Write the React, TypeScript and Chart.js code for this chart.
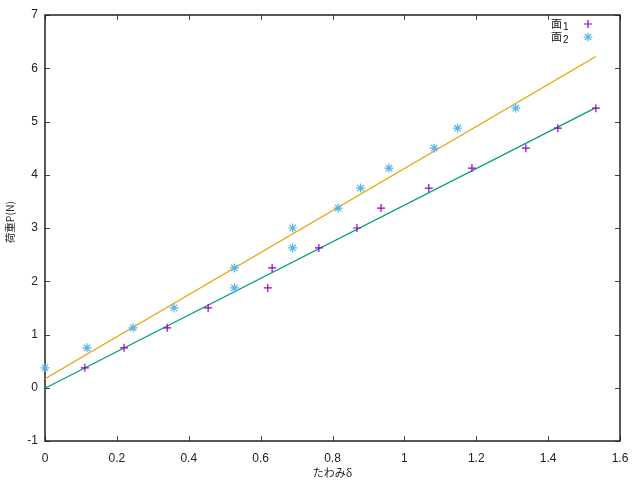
import React, { useEffect, useRef } from "react";
import { Chart, registerables } from "chart.js";
Chart.register(...registerables);

// 面1 (purple +)
const face1X = [0.111, 0.22, 0.34, 0.454, 0.62, 0.632, 0.762, 0.868, 0.935, 1.068, 1.188, 1.338, 1.427, 1.533];
const face1Y = [0.375, 0.75, 1.125, 1.5, 1.875, 2.25, 2.625, 3.0, 3.375, 3.75, 4.125, 4.5, 4.875, 5.25];
// 面2 (blue *)
const face2X = [0, 0.117, 0.245, 0.359, 0.527, 0.527, 0.689, 0.689, 0.816, 0.878, 0.957, 1.083, 1.148, 1.31];
const face2Y = [0.375, 0.75, 1.125, 1.5, 1.875, 2.25, 2.625, 3.0, 3.375, 3.75, 4.125, 4.5, 4.875, 5.25];
// fitted lines
const fit1X = [0, 1.533];
const fit1Y = [-0.01, 5.26];
const fit2X = [0, 1.533];
const fit2Y = [0.17, 6.22];

const xTickValues = [0, 0.2, 0.4, 0.6, 0.8, 1, 1.2, 1.4, 1.6];
const yTickValues = [-1, 0, 1, 2, 3, 4, 5, 6, 7];
const legendNames = ["面", "面"];
const legendSubs = ["1", "2"];
const xTitle = "たわみδ";
const yTitle = "荷重P(N)";

const C_PURPLE = "#9400d3";
const C_BLUE = "#56b4e9";
const C_ORANGE = "#e69f00";
const C_GREEN = "#009e73";

const NUM_FONT = "'Liberation Sans', 'DejaVu Sans', sans-serif";
const JP_FONT = "'Noto Sans CJK JP', 'Liberation Sans', sans-serif";

const toPts = (xs: number[], ys: number[]) => xs.map((x, i) => ({ x, y: ys[i] }));

const framePlugin = {
  id: "frame",
  beforeDatasetsDraw(chart: any) {
    const { ctx, chartArea: a, scales } = chart;
    ctx.save();
    ctx.strokeStyle = "#444";
    ctx.lineWidth = 1;
    const tl = 5;
    xTickValues.forEach((v) => {
      const px = Math.round(scales.x.getPixelForValue(v)) + 0.5;
      ctx.beginPath();
      ctx.moveTo(px, a.bottom);
      ctx.lineTo(px, a.bottom - tl);
      ctx.moveTo(px, a.top);
      ctx.lineTo(px, a.top + tl);
      ctx.stroke();
    });
    yTickValues.forEach((v) => {
      const py = Math.round(scales.y.getPixelForValue(v)) + 0.5;
      ctx.beginPath();
      ctx.moveTo(a.left, py);
      ctx.lineTo(a.left + tl, py);
      ctx.moveTo(a.right, py);
      ctx.lineTo(a.right - tl, py);
      ctx.stroke();
    });
    ctx.strokeStyle = "#222";
    ctx.lineWidth = 1.5;
    ctx.strokeRect(a.left, a.top, a.right - a.left, a.bottom - a.top);
    ctx.restore();
  },
  afterDraw(chart: any) {
    const { ctx, chartArea: a } = chart;
    ctx.save();
    // y-axis title
    ctx.translate(10, 222);
    ctx.rotate(-Math.PI / 2);
    ctx.fillStyle = "#222";
    ctx.font = `10.5px ${JP_FONT}`;
    ctx.textAlign = "center";
    ctx.textBaseline = "middle";
    ctx.fillText(yTitle, 0, 0);
    ctx.restore();

    ctx.save();
    const rows = [
      { color: C_PURPLE, style: "cross", r: 4 },
      { color: C_BLUE, style: "star", r: 4.5 },
    ];
    rows.forEach((row, i) => {
      const y = a.top + 9 + i * 13;
      ctx.fillStyle = "#111";
      ctx.textBaseline = "middle";
      ctx.textAlign = "right";
      ctx.font = `11px ${JP_FONT}`;
      const subW = 8;
      ctx.fillText(legendNames[i], a.right - 50 - subW, y);
      ctx.font = `10px ${NUM_FONT}`;
      ctx.textAlign = "left";
      ctx.fillText(legendSubs[i], a.right - 50 - subW + 1, y + 3);
      ctx.strokeStyle = row.color;
      ctx.lineWidth = 1.2;
      const cx = a.right - 32;
      const r = row.r;
      ctx.beginPath();
      ctx.moveTo(cx - r, y);
      ctx.lineTo(cx + r, y);
      ctx.moveTo(cx, y - r);
      ctx.lineTo(cx, y + r);
      if (row.style === "star") {
        const d = r * 0.707;
        ctx.moveTo(cx - d, y - d);
        ctx.lineTo(cx + d, y + d);
        ctx.moveTo(cx - d, y + d);
        ctx.lineTo(cx + d, y - d);
      }
      ctx.stroke();
    });
    ctx.restore();
  },
};

export default function App() {
  const ref = useRef<HTMLCanvasElement | null>(null);
  useEffect(() => {
    if (!ref.current) return;
    const chart = new Chart(ref.current, {
      type: "scatter",
      data: {
        datasets: [
          {
            label: "面1",
            data: toPts(face1X, face1Y),
            pointStyle: "cross",
            pointRadius: 4,
            pointBorderWidth: 1.2,
            borderColor: C_PURPLE,
            backgroundColor: C_PURPLE,
            showLine: false,
            clip: false,
          },
          {
            label: "面2",
            data: toPts(face2X, face2Y),
            pointStyle: "star",
            pointRadius: 4.5,
            pointBorderWidth: 1.2,
            borderColor: C_BLUE,
            backgroundColor: C_BLUE,
            showLine: false,
            clip: false,
          },
          {
            label: "fit1",
            data: toPts(fit1X, fit1Y),
            showLine: true,
            pointRadius: 0,
            borderColor: C_GREEN,
            borderWidth: 1.2,
            clip: false,
          },
          {
            label: "fit2",
            data: toPts(fit2X, fit2Y),
            showLine: true,
            pointRadius: 0,
            borderColor: C_ORANGE,
            borderWidth: 1.2,
            clip: false,
          },
        ],
      },
      options: {
        animation: false,
        responsive: false,
        maintainAspectRatio: false,
        layout: { padding: { left: 0, right: 20, top: 15, bottom: 0 } },
        plugins: { legend: { display: false }, tooltip: { enabled: false } },
        scales: {
          x: {
            type: "linear",
            min: 0,
            max: 1.6,
            grid: { display: false, drawTicks: false },
            border: { display: false },
            afterBuildTicks: (s: any) => {
              s.ticks = xTickValues.map((v) => ({ value: v }));
            },
            afterFit: (s: any) => {
              s.height = 39;
            },
            ticks: {
              padding: 10,
              color: "#222",
              font: { family: NUM_FONT, size: 12 },
              maxRotation: 0,
              autoSkip: false,
              callback: (v: any) => String(Number(Number(v).toFixed(1))),
            },
            title: {
              display: true,
              text: xTitle,
              color: "#222",
              font: { family: JP_FONT, size: 11 },
              padding: { top: 0, bottom: 1 },
            },
          },
          y: {
            type: "linear",
            min: -1,
            max: 7,
            grid: { display: false, drawTicks: false },
            border: { display: false },
            afterBuildTicks: (s: any) => {
              s.ticks = yTickValues.map((v) => ({ value: v }));
            },
            afterFit: (s: any) => {
              s.width = 45;
            },
            ticks: {
              padding: 7,
              color: "#222",
              font: { family: NUM_FONT, size: 12 },
              autoSkip: false,
              callback: (v: any) => String(v),
            },
            title: { display: false },
          },
        },
      },
      plugins: [framePlugin],
    } as any);
    return () => chart.destroy();
  }, []);
  return (
    <div style={{ position: "fixed", left: 0, top: 0, width: 640, height: 480, background: "#fff" }}>
      <canvas ref={ref} width={640} height={480} style={{ width: 640, height: 480 }} />
    </div>
  );
}
